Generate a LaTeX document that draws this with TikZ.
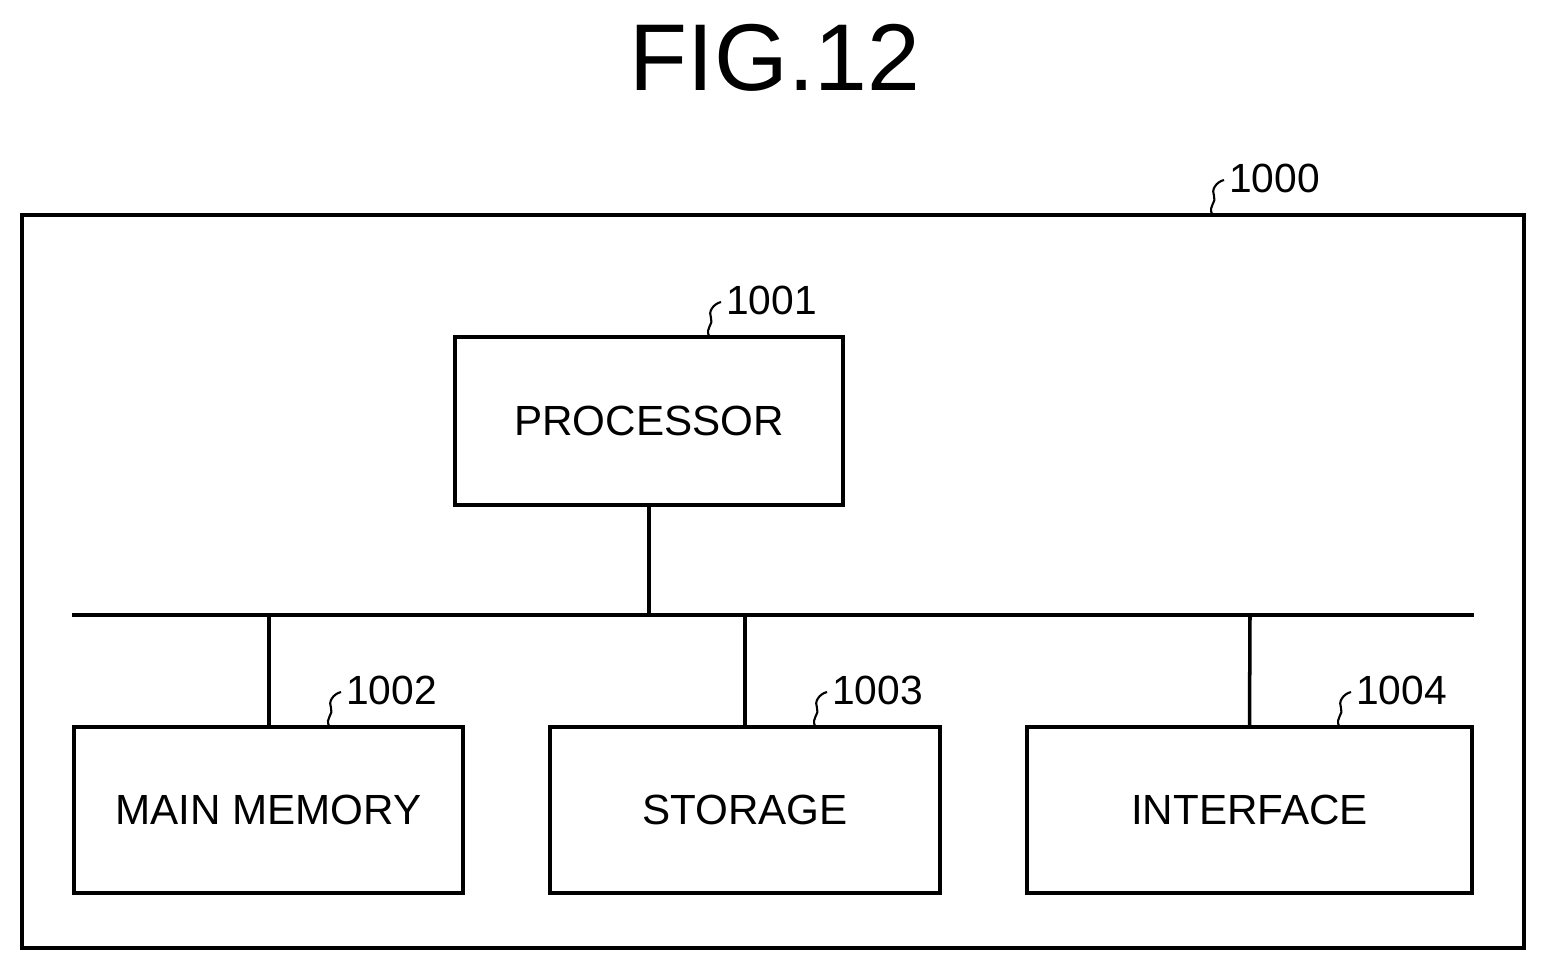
\documentclass[tikz,border=0pt]{standalone}
\usepackage{fontspec}
\setmainfont{Liberation Sans}
\begin{document}
\begin{tikzpicture}[x=0.05cm,y=-0.05cm,
  box/.style={draw,line width=5pt,inner sep=0pt,font=\fontsize{60}{60}\selectfont},
  ln/.style={line width=5pt},
  num/.style={font=\fontsize{58}{58}\selectfont,anchor=west,inner sep=0pt},
  sq/.style={line width=3pt}]
\useasboundingbox (0,0) rectangle (1546,972);
\node (title) at (775,58) {\fontsize{135}{135}\selectfont FIG.12};
\node[box,minimum width=1502*0.05cm,minimum height=733*0.05cm] (outer) at (773,581.5) {};
\node[box,minimum width=388*0.05cm,minimum height=168*0.05cm] (proc) at (649,421) {PROCESSOR};
\node[box,minimum width=389*0.05cm,minimum height=166*0.05cm] (mem) at (268.5,810) {MAIN MEMORY};
\node[box,minimum width=390*0.05cm,minimum height=166*0.05cm] (sto) at (745,810) {STORAGE};
\node[box,minimum width=445*0.05cm,minimum height=166*0.05cm] (int) at (1249.5,810) {INTERFACE};
\coordinate (bl) at (72,615); \coordinate (br) at (1474,615);
\draw[ln] (bl) -- (br);
\draw[ln] (proc.south) -- (649,615);
\draw[ln] (269,615) -- (mem.north -| 269,0);
\draw[ln] (745,615) -- (sto.north);
\draw[ln] (1250,615) -- (int.north);
\foreach \x/\y/\t/\n in {1212/214/1000/n0,709/336/1001/n1,329/726/1002/n2,815/726/1003/n3,1339/726/1004/n4}{
  \draw[sq] (\x,\y) .. controls (\x-4,\y-8) and (\x+5,\y-12) .. (\x+2,\y-18)
     .. controls (\x-1,\y-24) and (\x+4,\y-32) .. (\x+12,\y-34);
  \node[num] (\n) at (\x+17,\y-36) {\t};
}
\end{tikzpicture}
\end{document}
